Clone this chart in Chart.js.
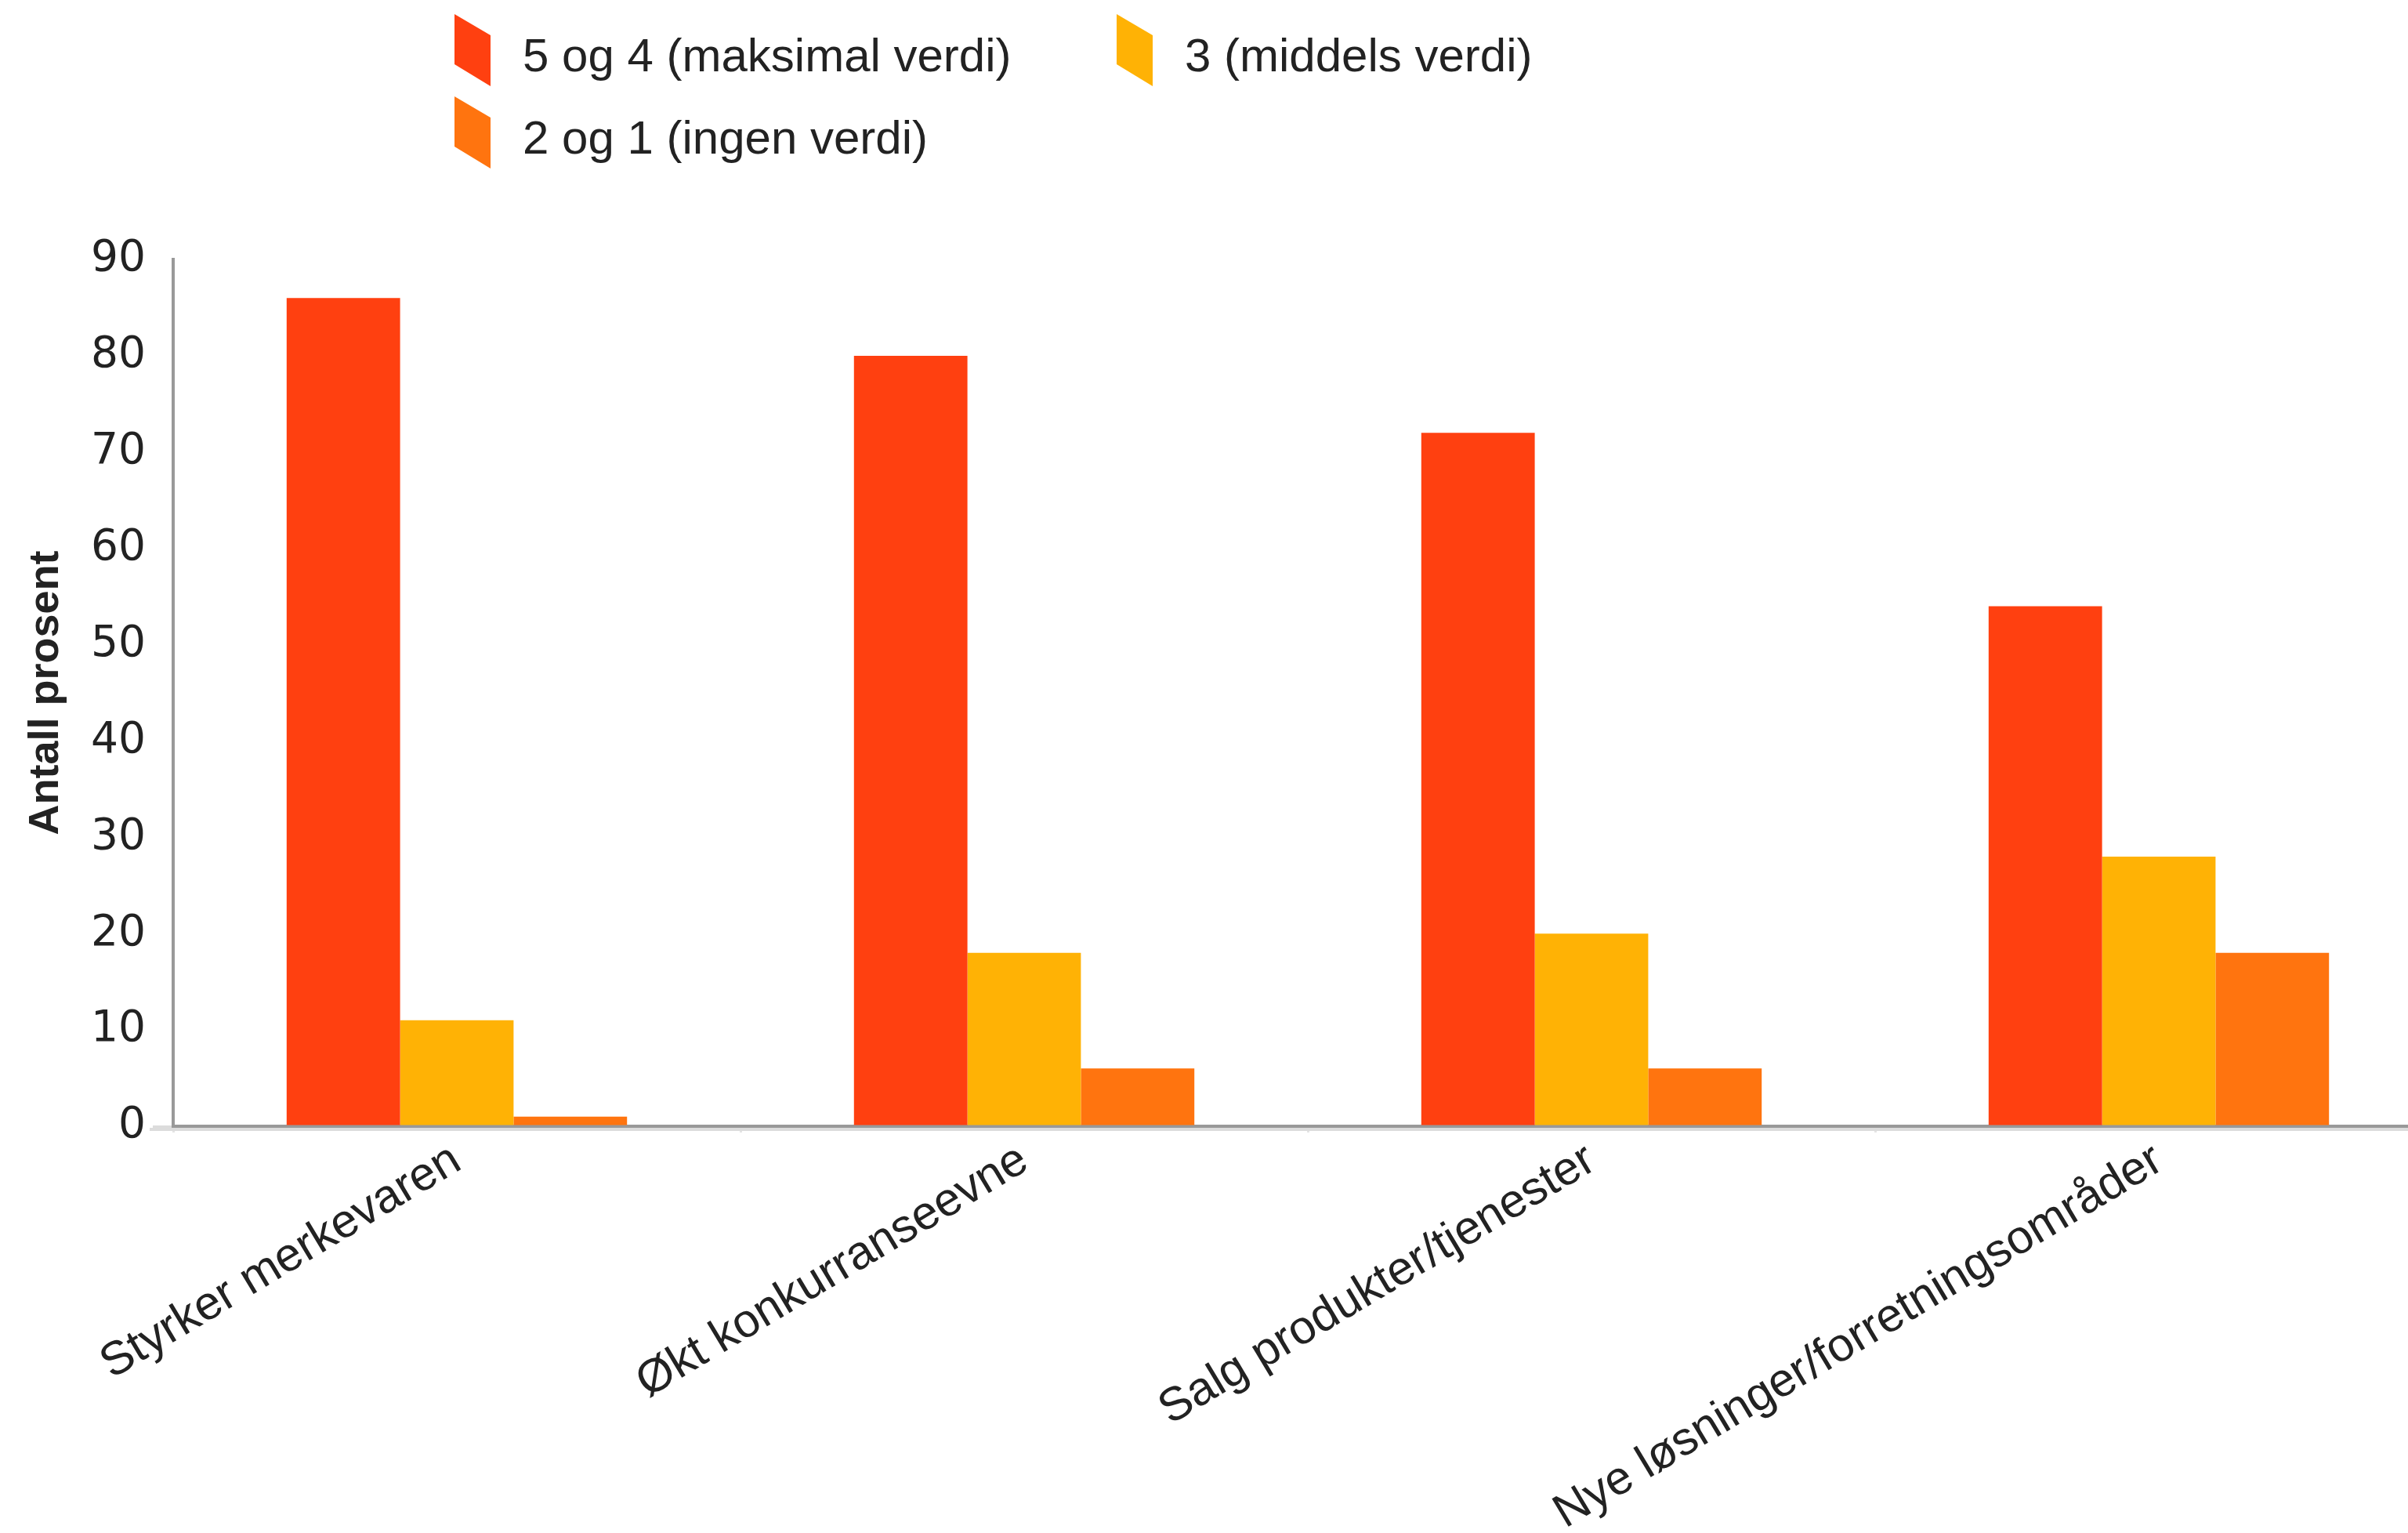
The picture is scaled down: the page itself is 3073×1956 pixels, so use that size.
<!DOCTYPE html>
<html><head><meta charset="utf-8">
<script src="https://cdn.jsdelivr.net/npm/chart.js@4.4.1/dist/chart.umd.min.js"></script>
<style>
html,body{margin:0;padding:0;background:#fff;overflow:hidden;width:3073px;height:1956px;}
#wrap{position:absolute;left:0;top:0;width:3117px;height:1956px;}
</style></head><body>
<div id="wrap"><canvas id="c" width="3117" height="1956"></canvas></div>
<script>
const categories = ["Styrker merkevaren", "Økt konkurranseevne", "Salg produkter/tjenester", "Nye løsninger/forretningsområder"];
const seriesNames = ["5 og 4 (maksimal verdi)", "3 (middels verdi)", "2 og 1 (ingen verdi)"];
const maxValues = [86, 80, 72, 54];
const midValues = [11, 18, 20, 28];
const noValues = [1, 6, 6, 18];
const yTickValues = [0, 10, 20, 30, 40, 50, 60, 70, 80, 90];
const yTitle = "Antall prosent";
const seriesColors = ['#FF4010', '#FFB205', '#FF740F'];

const legendCells = [{x: 580, y: 18}, {x: 1425, y: 18}, {x: 580, y: 123}];

const legendPlugin = {
  id: 'gridLegend',
  afterDraw(chart) {
    const ctx = chart.ctx;
    ctx.save();
    chart.data.datasets.forEach((ds, i) => {
      const c = legendCells[i];
      const w = 46, h = 64, s = 27;
      ctx.fillStyle = ds.backgroundColor;
      ctx.beginPath();
      ctx.moveTo(c.x, c.y);
      ctx.lineTo(c.x + w, c.y + s);
      ctx.lineTo(c.x + w, c.y + s + h + 1);
      ctx.lineTo(c.x, c.y + h);
      ctx.closePath();
      ctx.fill();
      ctx.fillStyle = '#222';
      ctx.font = '60px "Liberation Sans"';
      ctx.textBaseline = 'middle';
      ctx.textAlign = 'left';
      ctx.fillText(ds.label, c.x + 87, c.y + 56);
    });
    const a = chart.chartArea;
    ctx.strokeStyle = '#dcdcdc';
    ctx.lineWidth = 4;
    ctx.beginPath();
    ctx.moveTo(a.left - 30, a.bottom + 4);
    ctx.lineTo(a.right, a.bottom + 4);
    ctx.stroke();
    ctx.restore();
  }
};

new Chart(document.getElementById('c'), {
  type: 'bar',
  data: {
    labels: categories,
    datasets: [
      {label: seriesNames[0], data: maxValues, backgroundColor: seriesColors[0]},
      {label: seriesNames[1], data: midValues, backgroundColor: seriesColors[1]},
      {label: seriesNames[2], data: noValues, backgroundColor: seriesColors[2]}
    ]
  },
  options: {
    responsive: false,
    animation: false,
    devicePixelRatio: 1,
    layout: {padding: {top: 331, left: 0, right: 0, bottom: 0}},
    datasets: {bar: {categoryPercentage: 0.6, barPercentage: 1.0, borderWidth: 0}},
    plugins: {legend: {display: false}, tooltip: {enabled: false}},
    scales: {
      x: {
        ticks: {font: {family: 'Liberation Sans', size: 60}, color: '#222', maxRotation: 31, minRotation: 31, autoSkip: false, padding: 0},
        grid: {drawOnChartArea: false, tickLength: 8, color: '#e4e4e4', lineWidth: 3, offset: true},
        border: {color: '#999', width: 4},
        afterFit: s => { s.height = 519; s.paddingLeft = 0; s.paddingRight = 0; }
      },
      y: {
        min: 0, max: 90,
        afterBuildTicks: s => { s.ticks = yTickValues.map(v => ({value: v})); },
        ticks: {font: {family: 'DejaVu Sans', size: 55}, color: '#222', padding: 9},
        grid: {drawOnChartArea: false, tickLength: 26, lineWidth: 3, color: c => (c.tick && c.tick.value === 0) ? '#dcdcdc' : 'rgba(0,0,0,0)'},
        border: {color: '#999', width: 4},
        title: {display: true, text: yTitle, color: '#222', font: {family: 'Liberation Sans', size: 54, weight: 'bold'}, padding: {top: 27, bottom: 0}},
        afterFit: s => { s.width = 221; }
      }
    }
  },
  plugins: [legendPlugin]
});
</script>
</body></html>
